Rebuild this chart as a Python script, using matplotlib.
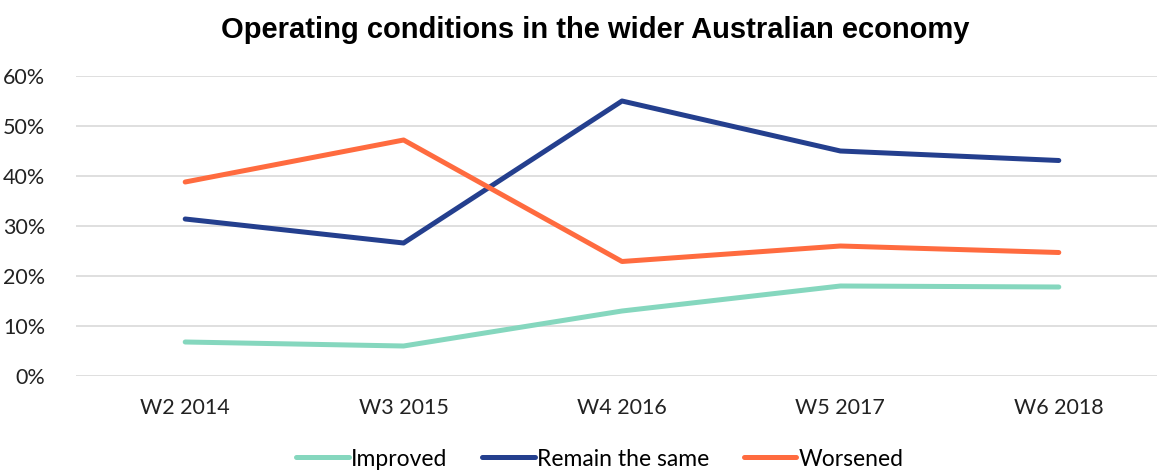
import numpy as np
import matplotlib
matplotlib.use('Agg')
import matplotlib.pyplot as plt
from matplotlib.ticker import PercentFormatter

# Values (share of respondents)
waves = ['W2 2014', 'W3 2015', 'W4 2016', 'W5 2017', 'W6 2018']
improved = [0.068, 0.060, 0.130, 0.180, 0.178]
remain_same = [0.314, 0.266, 0.550, 0.450, 0.431]
worsened = [0.388, 0.472, 0.229, 0.260, 0.247]

series_names = ['Improved', 'Remain the same', 'Worsened']
series_colors = ['#85D7BE', '#243F8E', '#FF6B3F']

fig = plt.figure(figsize=(11.57, 4.70), dpi=100)
ax = fig.add_axes([76 / 1157, 94 / 470, 1092 / 1157, 300 / 470])

x = np.arange(len(waves))
for vals, name, col in zip([improved, remain_same, worsened], series_names, series_colors):
    ax.plot(x, vals, color=col, linewidth=3.6, label=name,
            solid_capstyle='round', solid_joinstyle='round', zorder=3)

ax.set_xlim(-0.5, len(waves) - 0.5)
ax.set_ylim(0, 0.6)
ax.set_yticks(np.arange(0, 0.61, 0.1))
ax.yaxis.set_major_formatter(PercentFormatter(1.0, decimals=0))
ax.set_xticks(x)
ax.set_xticklabels(waves)

ax.grid(axis='y', color='#D9D9D9', linewidth=1.2, zorder=0)
for s in ax.spines.values():
    s.set_visible(False)
ax.tick_params(axis='both', length=0, labelsize=15.5, labelcolor='#222222')
ax.tick_params(axis='x', pad=16)
ax.tick_params(axis='y', pad=22)
for lbl in ax.get_xticklabels() + ax.get_yticklabels():
    lbl.set_family('Lato')

fig.text(595 / 1157, 1 - 30 / 470, 'Operating conditions in the wider Australian economy',
         ha='center', va='center', fontsize=21, fontweight='bold', family='Liberation Sans')

leg = fig.legend(loc='center', bbox_to_anchor=(600 / 1157, 1 - 459 / 470), ncol=3,
                 frameon=False, handlelength=2.3, handletextpad=0.1, columnspacing=1.5,
                 prop={'family': 'Lato', 'size': 16.5})

plt.savefig('out.png', dpi=100)
